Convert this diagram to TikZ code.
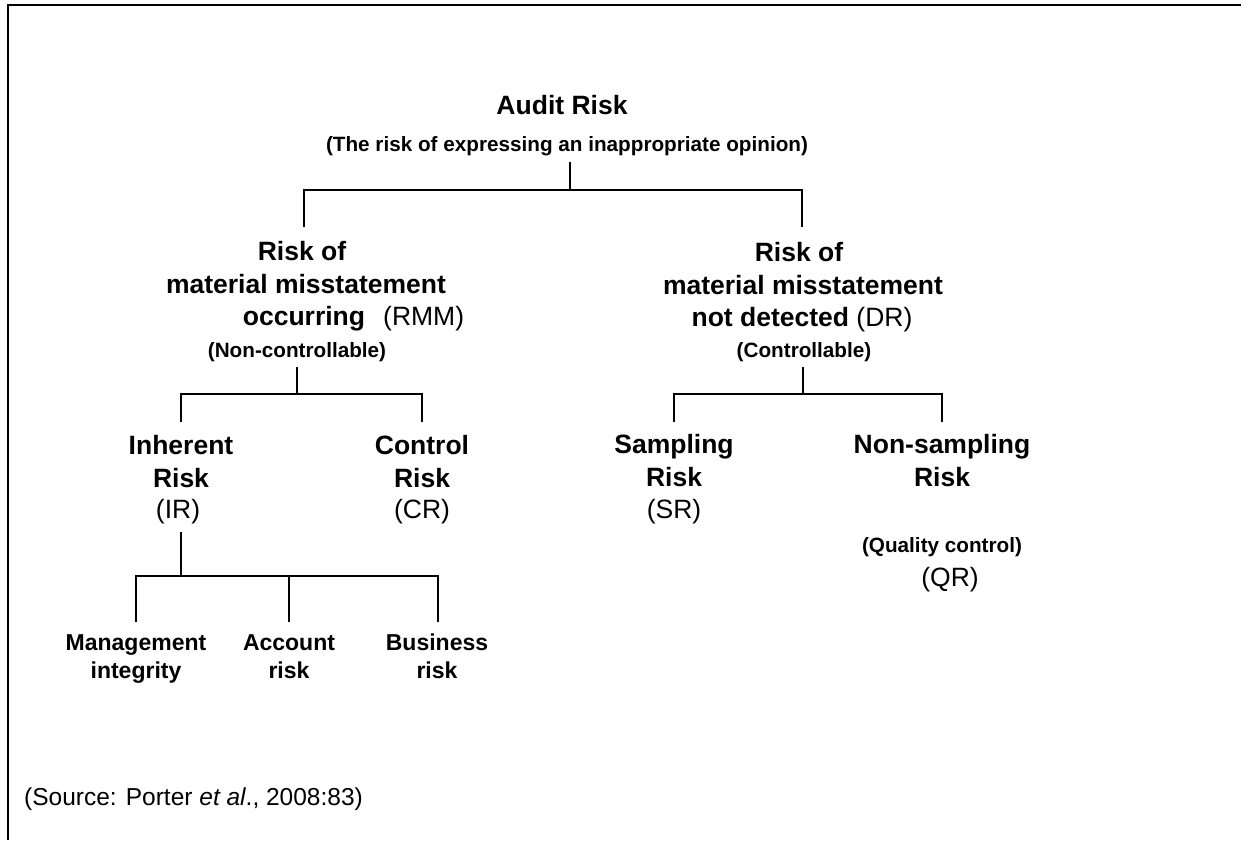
\documentclass[tikz,border=0pt]{standalone}
\usepackage{fontspec}
\setmainfont{Liberation Sans}
\begin{document}
\begin{tikzpicture}[x=1pt,y=-1pt,
  every node/.style={inner sep=0pt,anchor=base},
  big/.style={font=\bfseries\fontsize{26.5}{30}\selectfont},
  small/.style={font=\bfseries\fontsize{20.7}{24}\selectfont},
  leaf/.style={font=\bfseries\fontsize{23}{26}\selectfont},
  reg/.style={font=\fontsize{26.5}{30}\selectfont},
  src/.style={font=\fontsize{24.5}{28}\selectfont},
  conn/.style={line width=1.1pt},
  thickconn/.style={line width=2pt}]
\useasboundingbox (0,0) rectangle (1241,840);
\draw[line width=2.2pt] (8,840) -- (8,5) -- (1241,5);

% top
\node[big] (aud) at (562,114) {Audit Risk};
\node[small] (audsub) at (567,151) {(The risk of expressing an inappropriate opinion)};

% left middle
\node[big] (rmm1) at (302,260) {Risk of};
\node[big] (rmm2) at (306,293) {material misstatement};
\node[big] (rmm3) at (304,325) {occurring};
\node[reg,anchor=base west] (rmm4) at (383,325) {(RMM)};
\node[small] (rmm5) at (297,357) {(Non-controllable)};

% right middle
\node[big] (dr1) at (799,261) {Risk of};
\node[big] (dr2) at (803,294) {material misstatement};
\node[big] (dr3) at (802,326) {not detected \textmd{(DR)}};
\node[small] (dr4) at (804,357) {(Controllable)};

% third level left
\node[big] (ir1) at (181,454) {Inherent};
\node[big] (ir2) at (181,487) {Risk};
\node[reg] (ir3) at (178,518) {(IR)};
\node[big] (cr1) at (422,454) {Control};
\node[big] (cr2) at (422,487) {Risk};
\node[reg] (cr3) at (422,518) {(CR)};

% third level right
\node[big] (sr1) at (674,453) {Sampling};
\node[big] (sr2) at (674,486) {Risk};
\node[reg] (sr3) at (674,518) {(SR)};
\node[big] (qr1) at (942,453) {Non-sampling};
\node[big] (qr2) at (942,486) {Risk};
\node[small] (qr3) at (942,552) {(Quality control)};
\node[reg] (qr4) at (950,586) {(QR)};

% bottom
\node[leaf] (mi1) at (136,650) {Management};
\node[leaf] (mi2) at (136,678) {integrity};
\node[leaf] (ac1) at (289,650) {Account};
\node[leaf] (ac2) at (289,678) {risk};
\node[leaf] (bu1) at (437,650) {Business};
\node[leaf] (bu2) at (437,678) {risk};

% source
\node[src,anchor=base west] (srcnote) at (24,805) {(Source: Porter \textit{et al}., 2008:83)};

% connector points
\coordinate (t1) at (570,162); \coordinate (j1) at (570,190);
\coordinate (c1) at (304,227); \coordinate (c2) at (802,227);
\coordinate (t2) at (297,367); \coordinate (j2) at (297,394);
\coordinate (c3) at (181,422); \coordinate (c4) at (422,422);
\coordinate (t3) at (803,367); \coordinate (j3) at (803,394);
\coordinate (c5) at (674,422); \coordinate (c6) at (942,422);
\coordinate (t4) at (181,532); \coordinate (j4) at (181,576);
\coordinate (c7) at (136,622); \coordinate (c8) at (289,622); \coordinate (c9) at (438,622);

\draw[conn] (t1) -- (j1);
\draw[conn] (c1) |- (j1) -| (c2);
\draw[conn] (t2) -- (j2);
\draw[conn] (c3) |- (j2) -| (c4);
\draw[conn] (t3) -- (j3);
\draw[conn] (c5) |- (j3) -| (c6);
\draw[thickconn] (t4) -- (j4);
\draw[conn] (c7) |- (j4) -| (c9);
\draw[conn] (c8) -- (c8 |- j4);
\end{tikzpicture}
\end{document}
